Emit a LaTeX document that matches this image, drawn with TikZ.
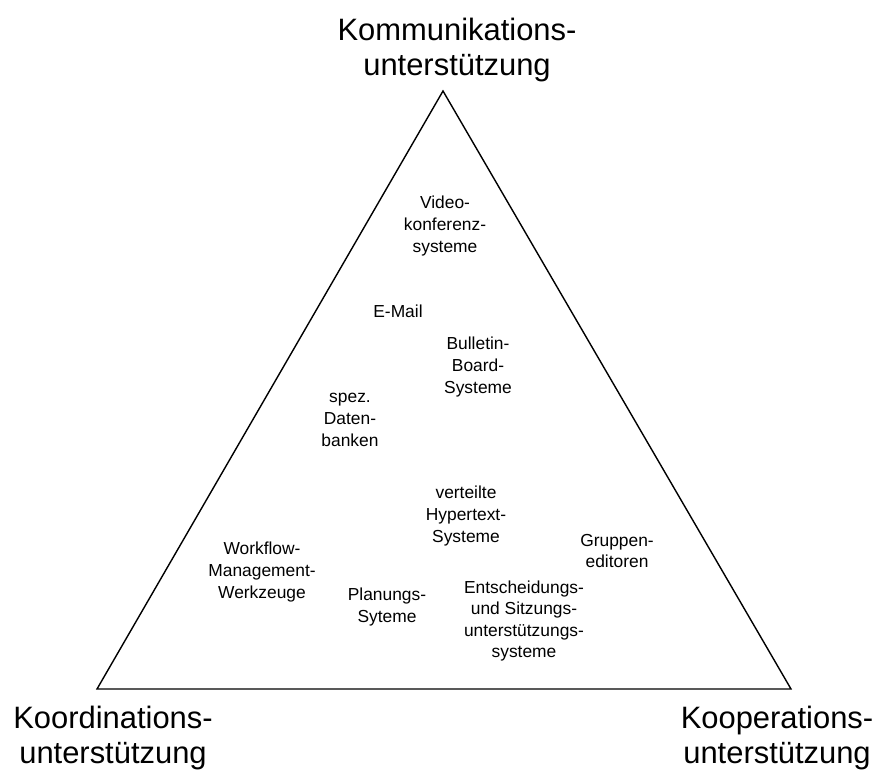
\documentclass[tikz,border=0pt]{standalone}
\usepackage{fontspec}
\setmainfont{Liberation Sans}
\usepackage{tikz}

\tikzset{
  corner/.style = {align=center, inner sep=0pt, font=\fontsize{17.6}{20.2}\selectfont},
  tool/.style = {align=center, inner sep=0pt, font=\fontsize{9.9}{12.3}\selectfont}
}

\begin{document}
\begin{tikzpicture}[x=0.02cm, y=-0.02cm]
\useasboundingbox (0, 0) rectangle (874, 771);
\coordinate (top) at (443, 91);
\coordinate (left) at (97, 689);
\coordinate (right) at (791, 689);
\draw[line width=0.8pt, line join=miter] (top) -- (left) -- (right) -- cycle;
% corner labels
\node[corner] (komm) at (457, 50) {Kommunikations-\\unterstützung};
\node[corner] (koord) at (113, 738) {Koordinations-\\unterstützung};
\node[corner] (koop) at (777, 738) {Kooperations-\\unterstützung};
% tools
\node[tool] (video) at (445, 226) {Video-\\konferenz-\\systeme};
\node[tool] (email) at (398, 311) {E-Mail};
\node[tool] (bboard) at (478, 367) {Bulletin-\\Board-\\Systeme};
\node[tool] (dbank) at (350, 420) {spez.\\Daten-\\banken};
\node[tool] (hyper) at (466, 516) {verteilte\\Hypertext-\\Systeme};
\node[tool] (wflow) at (262, 572) {Workflow-\\Management-\\Werkzeuge};
\node[tool] (plan) at (387, 607) {Planungs-\\Syteme};
\node[tool] (entsch) at (524, 621) {Entscheidungs-\\und Sitzungs-\\unterstützungs-\\systeme};
\node[tool] (gruppe) at (617, 551) {Gruppen-\\editoren};
\end{tikzpicture}
\end{document}
